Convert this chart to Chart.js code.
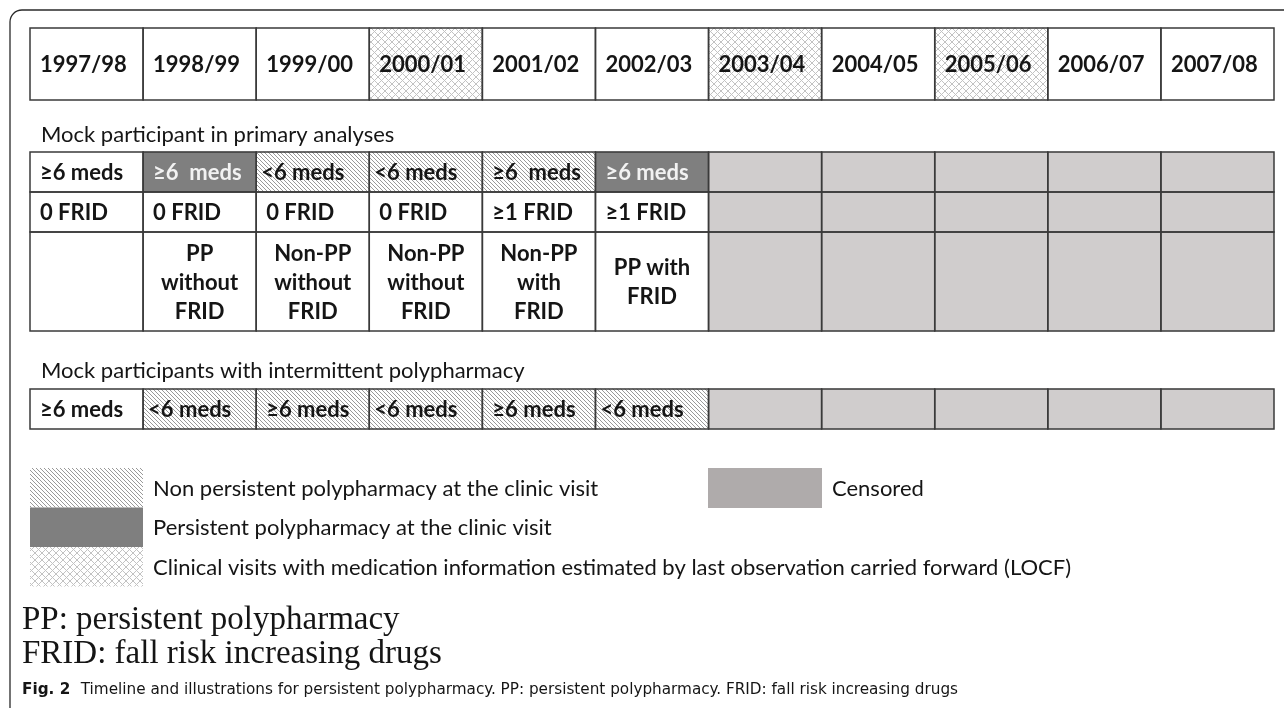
<!DOCTYPE html>
<html>
<head>
<meta charset="utf-8">
<script src="https://cdn.jsdelivr.net/npm/chart.js@4.4.0/dist/chart.umd.min.js"></script>
<style>
  html, body { margin: 0; padding: 0; background: #fff; overflow: hidden; }
  #wrap { position: relative; width: 1284px; height: 708px; }
</style>
</head>
<body>
<div id="wrap"><canvas id="timelineChart"></canvas></div>
<script>
// Data
const years = ["1997/98", "1998/99", "1999/00", "2000/01", "2001/02", "2002/03", "2003/04", "2004/05", "2005/06", "2006/07", "2007/08"]
const locfYears = ["2000/01", "2003/04", "2005/06"]
const censoredFrom = "2003/04"

const primaryMeds = ["≥6 meds", "≥6  meds", "<6 meds", "<6 meds", "≥6  meds", "≥6 meds", "", "", "", "", ""]
const primaryMedsState = ["none", "persistent", "nonPersistent", "nonPersistent", "nonPersistent", "persistent", "censored", "censored", "censored", "censored", "censored"]
const primaryFrid = ["0 FRID", "0 FRID", "0 FRID", "0 FRID", "≥1 FRID", "≥1 FRID", "", "", "", "", ""]
const primaryGroup = ["", "PP\nwithout\nFRID", "Non-PP\nwithout\nFRID", "Non-PP\nwithout\nFRID", "Non-PP\nwith\nFRID", "PP with\nFRID", "", "", "", "", ""]

const intermittentMeds = ["≥6 meds", "<6 meds", "≥6 meds", "<6 meds", "≥6 meds", "<6 meds", "", "", "", "", ""]
const intermittentState = ["none", "nonPersistent", "nonPersistent", "nonPersistent", "nonPersistent", "nonPersistent", "censored", "censored", "censored", "censored", "censored"]

const sectionTitles = ["Mock participant in primary analyses", "Mock participants with intermittent polypharmacy"]
const legendLabels = ["Non persistent polypharmacy at the clinic visit", "Persistent polypharmacy at the clinic visit", "Clinical visits with medication information estimated by last observation carried forward (LOCF)"]
const legendStates = ["nonPersistent", "persistent", "locf"]
const censoredLabel = "Censored"
const notes = ["PP: persistent polypharmacy", "FRID: fall risk increasing drugs"]
const captionBold = "Fig. 2"
const captionText = "Timeline and illustrations for persistent polypharmacy. PP: persistent polypharmacy. FRID: fall risk increasing drugs"

// Fills
function makePattern(kind) {
  const c = document.createElement("canvas")
  const g = c.getContext("2d")
  if (kind === "diag") {
    c.width = 4
    c.height = 4
    g.fillStyle = "#ffffff"
    g.fillRect(0, 0, 4, 4)
    g.strokeStyle = "#999999"
    g.lineWidth = 1
    g.beginPath()
    g.moveTo(-1, -1); g.lineTo(5, 5)
    g.moveTo(-1, 3); g.lineTo(1, 5)
    g.moveTo(3, -1); g.lineTo(5, 1)
    g.stroke()
  } else {
    c.width = 7
    c.height = 7
    g.fillStyle = "#ffffff"
    g.fillRect(0, 0, 7, 7)
    g.strokeStyle = "#c2c2c2"
    g.lineWidth = 1
    g.beginPath()
    g.moveTo(0, 0); g.lineTo(7, 7)
    g.moveTo(7, 0); g.lineTo(0, 7)
    g.stroke()
  }
  return g.createPattern(c, "repeat")
}

const fills = {
  none: "#ffffff",
  persistent: "#7f7f7f",
  nonPersistent: makePattern("diag"),
  locf: makePattern("cross"),
  censored: "#d0cdcd",
}
const legendCensored = "#afabab"

const censorIdx = years.indexOf(censoredFrom)
const afterCensor = (i) => (i >= censorIdx ? "censored" : "none")

// Row layout (pixel units on the y scale)
const rows = [
  { texts: years, states: years.map((y) => (locfYears.includes(y) ? "locf" : "none")), top: 28, bottom: 100, align: "left" },
  { texts: primaryMeds, states: primaryMedsState, top: 152, bottom: 192, align: "left" },
  { texts: primaryFrid, states: years.map((_, i) => afterCensor(i)), top: 192, bottom: 232, align: "left" },
  { texts: primaryGroup, states: years.map((_, i) => afterCensor(i)), top: 232, bottom: 331, align: "center" },
  { texts: intermittentMeds, states: intermittentState, top: 389, bottom: 429, align: "left" },
]

const cellFont = "bold 22px Lato, 'Open Sans', sans-serif"
const bodyFont = "22px Lato, 'Open Sans', sans-serif"
const ink = "#151515"
const lineColor = "#3a3a3a"

// Draws grid lines and cell text on top of the bars
const cellTextPlugin = {
  id: "cellText",
  afterDatasetsDraw(chart) {
    const ctx = chart.ctx
    ctx.save()
    rows.forEach((row, d) => {
      const meta = chart.getDatasetMeta(d)
      meta.data.forEach((bar, i) => {
        const p = bar.getProps(["x", "y", "base", "width"], true)
        const left = p.x - p.width / 2
        const top = Math.min(p.y, p.base)
        const bottom = Math.max(p.y, p.base)
        ctx.strokeStyle = lineColor
        ctx.lineWidth = 1.5
        ctx.strokeRect(left, top, p.width, bottom - top)

        const text = row.texts[i]
        if (!text) return
        ctx.font = cellFont
        ctx.fillStyle = row.states[i] === "persistent" ? "#f2f2f2" : ink
        ctx.textBaseline = "middle"
        const lines = text.split("\n")
        const lh = 29
        const cy = (top + bottom) / 2
        lines.forEach((ln, k) => {
          const y = cy + (k - (lines.length - 1) / 2) * lh + 1
          if (row.align === "center") {
            ctx.textAlign = "center"
            ctx.fillText(ln, p.x, y)
          } else {
            ctx.textAlign = "left"
            const pad = ln.startsWith("<") ? 5 : 10
            ctx.fillText(ln, left + pad, y)
          }
        })
      })
    })
    ctx.restore()
  },
}

// Frame, section titles, legend, notes and caption
const decorPlugin = {
  id: "decor",
  afterDraw(chart) {
    const ctx = chart.ctx
    ctx.save()

    // rounded frame (top and left sides)
    ctx.strokeStyle = "#2a2a2a"
    ctx.lineWidth = 1.3
    ctx.beginPath()
    ctx.moveTo(10, 708)
    ctx.lineTo(10, 22)
    ctx.arcTo(10, 10, 22, 10, 12)
    ctx.lineTo(1284, 10)
    ctx.stroke()

    // section titles
    ctx.fillStyle = ink
    ctx.font = bodyFont
    ctx.textAlign = "left"
    ctx.textBaseline = "alphabetic"
    ctx.fillText(sectionTitles[0], 41, 142)
    ctx.fillText(sectionTitles[1], 41, 378)

    // legend
    const swX = 30, swW = 113, swTop = 468, swH = 39.5
    legendStates.forEach((s, k) => {
      const y = swTop + k * swH
      ctx.fillStyle = fills[s]
      ctx.fillRect(swX, y, swW, swH)
      ctx.fillStyle = ink
      ctx.font = bodyFont
      ctx.textBaseline = "middle"
      ctx.fillText(legendLabels[k], 153, y + swH / 2 + 1)
    })
    ctx.fillStyle = legendCensored
    ctx.fillRect(708, 468, 114, 40)
    ctx.fillStyle = ink
    ctx.fillText(censoredLabel, 832, 489)

    // abbreviation notes
    ctx.textBaseline = "alphabetic"
    ctx.font = "33px 'Liberation Serif', 'DejaVu Serif', serif"
    ctx.fillText(notes[0], 22, 629)
    ctx.fillText(notes[1], 22, 663)

    // caption, fitted to its printed width
    const capFontB = "bold 16px 'Liberation Sans Narrow', 'DejaVu Sans Condensed', sans-serif"
    const capFontR = "16px 'Liberation Sans Narrow', 'DejaVu Sans Condensed', sans-serif"
    ctx.font = capFontB
    const wb = ctx.measureText(captionBold + "  ").width
    ctx.font = capFontR
    const wr = ctx.measureText(captionText).width
    const sx = 936 / (wb + wr)
    ctx.translate(22, 694)
    ctx.scale(sx, 1)
    ctx.font = capFontB
    ctx.fillText(captionBold, 0, 0)
    ctx.font = capFontR
    ctx.fillText(captionText, wb, 0)
    ctx.restore()
  },
}

const datasets = rows.map((row) => ({
  data: years.map(() => [row.top, row.bottom]),
  backgroundColor: row.states.map((s) => fills[s]),
  borderWidth: 0,
  grouped: false,
  categoryPercentage: 1,
  barPercentage: 1,
}))

new Chart(document.getElementById("timelineChart"), {
  type: "bar",
  data: { labels: years, datasets: datasets },
  options: {
    responsive: true,
    maintainAspectRatio: false,
    animation: false,
    events: [],
    layout: { padding: { left: 30, right: 10, top: 0, bottom: 0 } },
    scales: {
      x: { display: false, offset: true, grid: { display: false } },
      y: { display: false, min: 0, max: 708, reverse: true },
    },
    plugins: {
      legend: { display: false },
      tooltip: { enabled: false },
    },
  },
  plugins: [cellTextPlugin, decorPlugin],
})
</script>
</body>
</html>
